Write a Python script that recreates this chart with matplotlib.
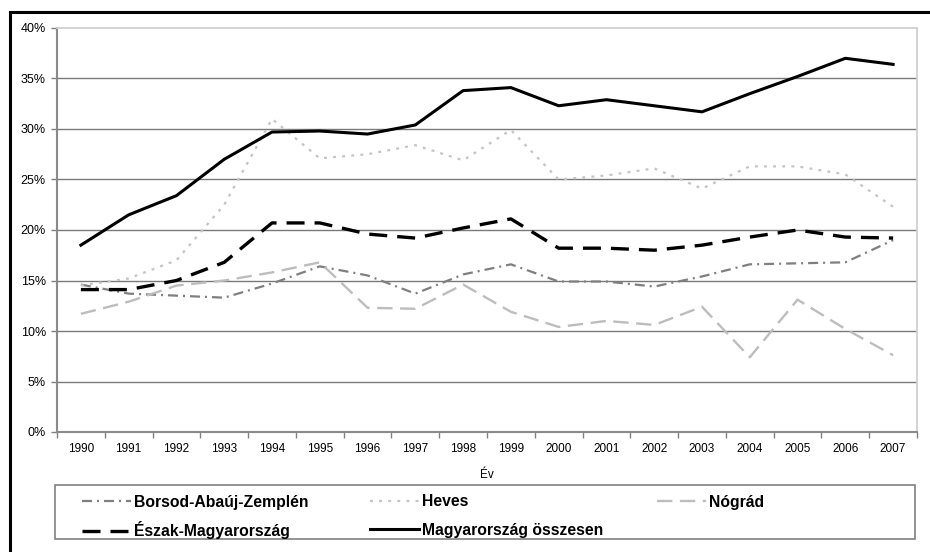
import numpy as np
import matplotlib
matplotlib.use("Agg")
import matplotlib.pyplot as plt
from matplotlib.patches import Rectangle
from matplotlib.ticker import FixedLocator, FuncFormatter

plt.rcParams['font.family'] = ['Liberation Sans', 'DejaVu Sans']

years = [str(y) for y in range(1990, 2008)]
borsod = [14.6, 13.7, 13.5, 13.3, 14.7, 16.4, 15.5, 13.7, 15.6, 16.6, 14.9, 14.9, 14.4, 15.4, 16.6, 16.7, 16.8, 19.0]
heves = [14.5, 15.2, 17.0, 22.5, 31.0, 27.1, 27.5, 28.4, 26.9, 29.9, 25.0, 25.4, 26.1, 24.1, 26.3, 26.3, 25.5, 22.3]
nograd = [11.7, 12.9, 14.5, 15.0, 15.8, 16.8, 12.3, 12.2, 14.6, 11.9, 10.4, 11.0, 10.6, 12.4, 7.4, 13.1, 10.2, 7.6]
eszak = [14.1, 14.1, 15.0, 16.8, 20.7, 20.7, 19.6, 19.2, 20.2, 21.1, 18.2, 18.2, 18.0, 18.5, 19.3, 20.0, 19.3, 19.2]
orszag = [18.5, 21.5, 23.4, 27.0, 29.7, 29.8, 29.5, 30.4, 33.8, 34.1, 32.3, 32.9, 32.3, 31.7, 33.5, 35.2, 37.0, 36.4]

labels = ["Borsod-Abaúj-Zemplén", "Heves", "Nógrád", "Észak-Magyarország", "Magyarország összesen"]
yticks = [0, 5, 10, 15, 20, 25, 30, 35, 40]

W, H = 930, 552
fig = plt.figure(figsize=(W / 100, H / 100), dpi=100)
ax = fig.add_axes([57 / W, (H - 432) / H, 860 / W, 404 / H])

x = np.arange(len(years))
h_b, = ax.plot(x, borsod, color='#7f7f7f', lw=1.6, dashes=(4.5, 2.25, 0.9, 2.25), label=labels[0], zorder=3)
h_h, = ax.plot(x, heves, color='#c4c4c4', lw=1.6, dashes=(1.3, 2.8), label=labels[1], zorder=3)
h_n, = ax.plot(x, nograd, color='#bdbdbd', lw=1.7, dashes=(6.5, 3.2), label=labels[2], zorder=3)
h_e, = ax.plot(x, eszak, color='black', lw=2.4, dashes=(5.4, 3.0), label=labels[3], zorder=4)
h_o, = ax.plot(x, orszag, color='black', lw=2.2, label=labels[4], zorder=5)

ax.set_xlim(-0.5, len(years) - 0.5)
ax.set_ylim(0, 40)

# grid
ax.yaxis.set_major_locator(FixedLocator(yticks))
ax.yaxis.set_major_formatter(FuncFormatter(lambda v, p: f"{v:.0f}%"))
for t in yticks[1:-1]:
    ax.axhline(t, color='#7a7a7a', lw=1.0, zorder=1)

ax.xaxis.set_major_locator(FixedLocator(np.arange(-0.5, len(years), 1.0)))
ax.xaxis.set_major_formatter(FuncFormatter(lambda v, p: ""))
ax.xaxis.set_minor_locator(FixedLocator(x))
ax.set_xticks(x, years, minor=True)

ax.tick_params(axis='x', which='major', length=4, width=1, color='#808080', direction='out')
ax.tick_params(axis='x', which='minor', length=0, pad=8, labelsize=8.5)
ax.tick_params(axis='y', which='major', length=4, width=1, color='#808080', direction='out', pad=4, labelsize=9)

for s in ['left', 'bottom']:
    ax.spines[s].set_color('#8a8a8a')
    ax.spines[s].set_linewidth(1.5)
for s in ['top', 'right']:
    ax.spines[s].set_color('#d0d0d0')
    ax.spines[s].set_linewidth(1.3)

ax.set_xlabel("Év", fontsize=8.5, labelpad=10)

# legend frame
fig.patches.append(Rectangle((55 / W, 1 - 539 / H), 860 / W, 54 / H, transform=fig.transFigure,
                             fill=False, edgecolor='#808080', lw=1.2))

# outer border
fig.patches.append(Rectangle((10 / W, -0.1), 1.1, 1.1 - 12 / H, transform=fig.transFigure,
                             fill=False, edgecolor='black', lw=2.2, clip_on=False))

common = dict(loc='center left', frameon=False, borderpad=0, borderaxespad=0,
              handlelength=3.1, handletextpad=0.2,
              prop={'size': 11.3, 'weight': 'bold'})
row1 = 1 - 502 / H
row2 = 1 - 530 / H
entries = [(h_b, labels[0], 82, row1), (h_h, labels[1], 370, row1), (h_n, labels[2], 657, row1),
           (h_e, labels[3], 82, row2), (h_o, labels[4], 370, row2)]
for h, lab, px, py in entries:
    leg = fig.legend([h], [lab], bbox_to_anchor=(px / W, py), **common)

fig.savefig("out.png", dpi=100)
